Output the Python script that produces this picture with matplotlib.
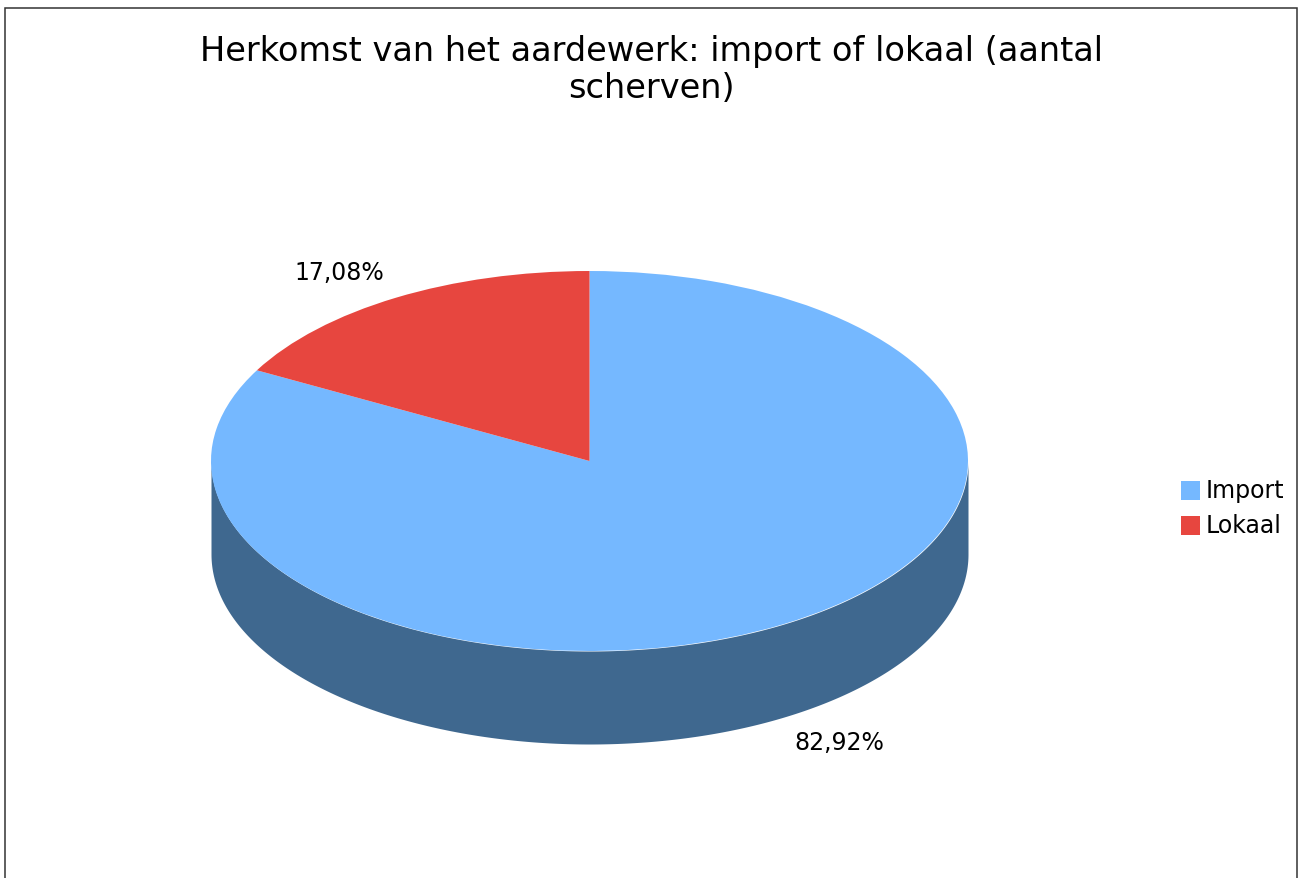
import numpy as np
import matplotlib
matplotlib.use("Agg")
import matplotlib.pyplot as plt
from matplotlib.patches import Rectangle

title = "Herkomst van het aardewerk: import of lokaal (aantal\nscherven)"
categories = ["Import", "Lokaal"]
values = [82.92, 17.08]
labels = ["82,92%", "17,08%"]
colors = ["#75B8FF", "#E7463F"]
side_color = "#3F688F"

W, H = 1302, 879
CX, CY, RX, RY, DEPTH = 589.5, 462.0, 378.5, 190.0, 93.0

fig = plt.figure(figsize=(W / 100, H / 100), dpi=100, facecolor="white")
plt.rcParams["font.family"] = ["DejaVu Sans"]

# Axes whose unit circle maps onto the ellipse of the pie top
ax = fig.add_axes([0, 0, 1, 1])
wedges, _ = ax.pie(values, colors=colors, startangle=90, counterclock=False,
                   radius=1, center=(0, 0), frame=True,
                   wedgeprops=dict(linewidth=0, zorder=3))
ax.set_aspect("auto")
ax.set_xlim(-CX / RX, (W - CX) / RX)
ax.set_ylim((CY - H) / RY, CY / RY)
ax.axis("off")

# Side wall of the cylinder
t = np.linspace(np.pi, 2 * np.pi, 400)
d = DEPTH / RY
ax.fill_between(np.cos(t), np.sin(t), np.sin(t) - d, color=side_color, lw=0, zorder=2)


def px(x, y):
    return (x - CX) / RX, (CY - y) / RY


# Chart border
ax.add_patch(Rectangle(px(5.5, 900), 1291.5 / RX, 891.5 / RY, fill=False,
                       edgecolor="#333333", lw=1.1, zorder=1))

ax.text(*px(651.5, 70), title, ha="center", va="center", fontsize=24.2,
        color="black", linespacing=1.17, zorder=5)
ax.text(*px(339.5, 273), labels[1], ha="center", va="center", fontsize=17, zorder=5)
ax.text(*px(839, 743), labels[0], ha="center", va="center", fontsize=17, zorder=5)

# Legend
for name, col, y in zip(categories, colors, [491, 526]):
    ax.add_patch(Rectangle(px(1181, y + 9.5), 19 / RX, 19 / RY, facecolor=col,
                           edgecolor="none", zorder=5))
    ax.text(*px(1206, y), name, ha="left", va="center", fontsize=17, zorder=5)

fig.savefig("out.png", dpi=100)
